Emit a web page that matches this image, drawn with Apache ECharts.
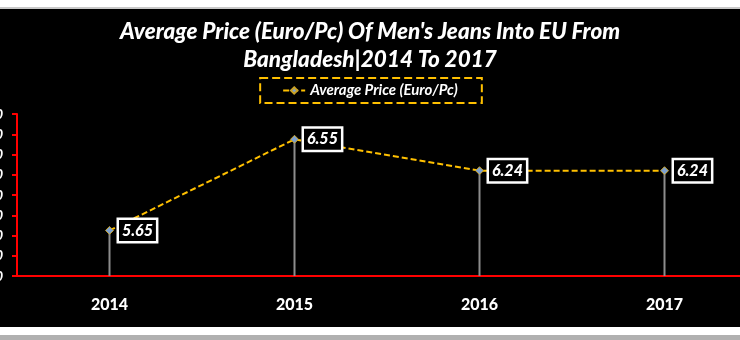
<!DOCTYPE html>
<html>
<head>
<meta charset="utf-8">
<script src="https://cdn.jsdelivr.net/npm/echarts@6/dist/echarts.min.js"></script>
<style>
html,body{margin:0;padding:0;background:#fff;}
#c{width:740px;height:340px;}
</style>
</head>
<body>
<div id="c"></div>
<script>
var categories = ['2014', '2015', '2016', '2017'];
var avgPrice = [5.65, 6.55, 6.24, 6.24];
var seriesName = 'Average Price (Euro/Pc)';
var titleText = "Average Price (Euro/Pc) Of Men's Jeans Into EU From\nBangladesh|2014 To 2017";

var FONT = 'Lato, "Open Sans", sans-serif';
var chart = echarts.init(document.getElementById('c'), null, {renderer: 'canvas'});
chart.setOption({
  backgroundColor: '#000',
  animation: false,
  title: {
    text: titleText,
    left: 'center',
    top: 13,
    textStyle: {color: '#fff', fontFamily: FONT, fontStyle: 'italic', fontWeight: 900, fontSize: 22.5, lineHeight: 28}
  },
  legend: {
    top: 78,
    left: 'center',
    data: [seriesName],
    borderColor: '#FFC000',
    borderWidth: 2,
    borderType: 'dashed',
    padding: [5, 24, 5, 22],
    itemWidth: 22,
    itemHeight: 8,
    textStyle: {color: '#fff', fontFamily: FONT, fontStyle: 'italic', fontWeight: 'bold', fontSize: 15}
  },
  grid: {left: 17, top: 114, width: 740, height: 162, containLabel: false, outerBoundsMode: 'none'},
  xAxis: {
    type: 'category',
    data: categories,
    boundaryGap: true,
    axisLine: {lineStyle: {color: '#FF0000', width: 2}},
    axisTick: {show: false},
    axisLabel: {color: '#fff', fontFamily: FONT, fontWeight: 900, fontSize: 16, margin: 21}
  },
  yAxis: {
    type: 'value',
    min: 5.2,
    max: 6.8,
    interval: 0.2,
    splitLine: {show: false},
    axisLine: {show: true, lineStyle: {color: '#FF0000', width: 2}},
    axisTick: {show: true, length: 5, lineStyle: {color: '#FF0000', width: 2}},
    axisLabel: {color: '#fff', fontFamily: FONT, fontStyle: 'italic', fontWeight: 'bold', fontSize: 14, margin: 14,
      formatter: function (v) { return v.toFixed(2); }}
  },
  graphic: [
    {type: 'rect', shape: {x: 0, y: 0, width: 740, height: 8}, style: {fill: '#fff'}, z: 100},
    {type: 'rect', shape: {x: 0, y: 7, width: 740, height: 2}, style: {fill: '#c8c8c8'}, z: 100},
    {type: 'rect', shape: {x: 0, y: 327, width: 740, height: 13}, style: {fill: '#fff'}, z: 100},
    {type: 'rect', shape: {x: 0, y: 335, width: 740, height: 5}, style: {fill: '#b0b0b0'}, z: 100}
  ],
  series: [
    {
      type: 'bar',
      name: 'drop',
      data: avgPrice,
      barWidth: 2,
      itemStyle: {color: '#8c8c8c'},
      silent: true,
      z: 1
    },
    {
      type: 'line',
      name: seriesName,
      data: avgPrice,
      symbol: 'diamond',
      symbolSize: 8,
      lineStyle: {color: '#FFC000', width: 2, type: [6, 3]},
      itemStyle: {color: '#7da0cf', borderColor: '#C9A227', borderWidth: 1},
      z: 5,
      label: {
        show: true,
        position: 'right',
        distance: 5,
        formatter: function (p) { return p.value.toFixed(2); },
        color: '#fff',
        fontFamily: FONT,
        fontStyle: 'italic',
        fontWeight: 900,
        fontSize: 16,
        backgroundColor: '#000',
        borderColor: '#fff',
        borderWidth: 2.5,
        padding: [3, 3, 2, 3]
      }
    }
  ]
});
</script>
</body>
</html>
